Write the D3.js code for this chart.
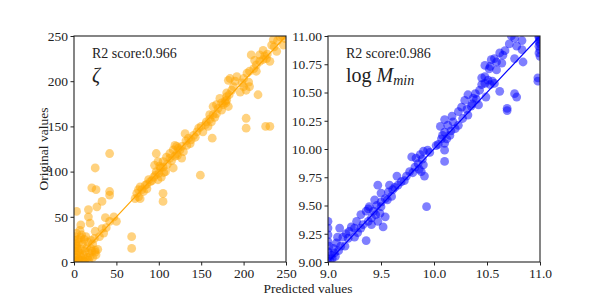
<!DOCTYPE html>
<html><head><meta charset="utf-8">
<script src="https://cdn.jsdelivr.net/npm/d3@7"></script>
<style>body{margin:0;background:#fff}svg{display:block}text{font-family:"Liberation Serif","DejaVu Serif",serif;fill:#222}</style>
</head><body><svg id="c" width="600" height="300"></svg>
<script>
// ---- data ----
const zetaTicks = [0, 50, 100, 150, 200, 250];
const mminXTicks = [9.0, 9.5, 10.0, 10.5, 11.0];
const mminYTicks = [9.0, 9.25, 9.5, 9.75, 10.0, 10.25, 10.5, 10.75, 11.0];
const zetaScore = "R2 score:0.966";
const mminScore = "R2 score:0.986";
// [predicted, original]
const zetaPoints = [
[243,249],[249,247],[247,240],[233,240],[239,233],[223,234],[219,229],[227,225],[223,224],[219,222],[231,222],[209,229],[215,218],[215,211],[207,211],[204,209],[200,203],[192,205],[184,203],[188,194],[182,201],[200,194],[203,190],[207,194],[206,199],[196,188],[217,185],[180,187],[180,183],[172,181],[180,179],[176,174],[168,174],[164,172],[174,168],[182,172],[168,164],[164,163],[160,163],[162,155],[156,155],[158,150],[152,144],[147,148],[141,140],[135,137],[131,142],[137,131],[133,129],[127,128],[121,128],[119,129],[117,124],[121,120],[113,120],[113,115],[109,116],[105,111],[105,105],[99,111],[97,120],[95,107],[97,100],[103,94],[99,91],[94,94],[88,91],[84,85],[78,83],[76,80],[74,76],[72,70],[78,70],[82,78],[86,81],[90,89],[129,122],[127,115],[117,104],
[240,245],[236,238],[228,230],[212,214],[198,198],[186,190],[178,178],[170,170],[166,160],[150,150],[145,144],[138,135],[125,124],[122,118],[115,112],[110,108],[108,100],[102,104],[100,98],[96,96],[92,90],[86,86],[80,80],[76,72],[123,126],[119,117],[106,99],[101,106],[183,185],[179,176],[174,176],[190,200],[213,223],[225,228],[235,246],[246,250],[160,158],[155,152],[143,138],[132,134],
[231,150],[226,150],[203,159],[203,148],[163,137],[149,96],[105,76],[105,67],[68,28],[68,15],[42,120],[42,78],[42,74],[25,104],[21,82],[26,80],[33,67],[27,61],[17,58],[17,50],[3,56],[8,41],[19,43],[47,50],[37,49],[42,45],[50,45],[33,37],[25,34],[35,32],[25,13],[25,11],[30,28],[38,38],
[1,2],[2,5],[3,8],[1,12],[4,15],[2,20],[5,25],[1,28],[6,3],[8,6],[7,10],[9,14],[3,18],[10,20],[12,25],[14,28],[6,22],[8,27],[11,8],[13,12],[15,16],[16,5],[18,10],[20,15],[2,1],[4,0.5],[7,1],[10,2],[13,3],[17,2],[19,6],[21,12],[5,12],[0.5,6],[0.5,16],[0.5,24],[9,30],[16,22],[20,24],[22,20],[24,26],[3,32],[7,35],[12,0.5],[22,5],[26,8],[28,14]
];
const mminPoints = [
[10.73,11.0],[10.76,10.98],[10.83,10.96],[10.78,10.91],[10.83,10.88],[10.99,11.0],[10.99,10.95],[10.99,10.91],[11.0,10.82],[10.76,10.80],[10.62,10.85],[10.65,10.83],[10.57,10.80],[10.54,10.79],[10.59,10.77],[10.48,10.74],[10.53,10.73],[10.64,10.76],[10.59,10.70],[10.52,10.71],[10.48,10.64],[10.51,10.61],[10.48,10.58],[10.53,10.57],[10.57,10.58],[10.45,10.57],[10.43,10.52],[10.62,10.51],[10.49,10.46],[10.39,10.49],[10.32,10.48],[10.37,10.45],[10.29,10.43],[10.36,10.40],[10.42,10.39],[10.26,10.37],[10.31,10.35],[10.23,10.33],[10.32,10.30],[10.17,10.29],[10.18,10.24],[10.13,10.21],[10.10,10.26],[10.23,10.21],[10.20,10.18],[10.06,10.20],[10.10,10.15],[10.15,10.12],[10.12,10.09],[10.07,10.09],[10.04,10.04],[10.10,10.05],[10.10,9.99],[10.10,9.89],[9.94,9.99],[9.90,9.98],[9.87,9.95],[9.83,9.92],[9.79,9.93],[9.85,9.87],[9.90,9.86],[9.88,9.80],[9.91,9.76],[9.82,9.84],[9.77,9.80],[9.74,9.76],[9.69,9.71],[9.65,9.76],[9.66,9.68],[9.58,9.68],[9.61,9.64],[9.57,9.62],[9.50,9.61],[9.47,9.68],[9.54,9.56],[9.50,9.53],[9.44,9.55],[9.50,9.49],[9.46,9.50],[9.39,9.49],[9.43,9.45],[9.49,9.43],[9.54,9.40],[9.52,9.31],[9.47,9.36],[9.41,9.39],[9.38,9.36],[9.41,9.33],[9.38,9.47],[9.36,9.45],[9.31,9.42],[9.27,9.36],[9.25,9.30],[9.22,9.31],[9.20,9.27],[9.17,9.25],[9.14,9.22],[9.11,9.30],[9.09,9.22],[9.08,9.17],[9.05,9.12],[9.06,9.08],[9.03,9.06],[9.16,9.14],[9.25,9.22],[9.36,9.19],[9.31,9.30],
[9.93,9.49],[10.84,10.77],[10.76,10.49],[10.78,10.46],[10.69,10.36],[10.69,10.34],[10.98,10.63],[10.98,10.60],[10.99,10.85],
[9.0,9.36],[9.0,9.30],[9.0,9.24],[9.0,9.18],[9.0,9.09],[9.0,9.03],[9.02,9.01],[9.04,9.03],[9.07,9.05],[9.1,9.1],[9.01,9.14],
[10.71,10.93],[10.67,10.87],[10.45,10.63],[10.40,10.44],[10.27,10.27],[10.16,10.16],[10.02,10.03],[9.96,9.97],[9.89,9.91],[9.80,9.79],[9.72,9.72],[9.63,9.66],[9.56,9.55],[9.45,9.42],[9.33,9.33],[9.28,9.26],[9.19,9.21],[9.12,9.14],[10.55,10.60],[10.35,10.38],[10.08,10.12],[9.86,9.82],[9.60,9.58],
[11.0,10.97],[11.0,10.93],[11.0,10.88],[10.99,10.99]
];

// ---- drawing ----
const svg = d3.select("#c");
const panels = [
  {pts: zetaPoints, dom: [0,250], xt: zetaTicks, yt: zetaTicks, xf: d3.format("d"), yf: d3.format("d"),
   x0: 74, x1: 286, y0: 36, y1: 262, color: "#ffa500", line: [14,250], score: zetaScore, id: "a"},
  {pts: mminPoints, dom: [9,11], xt: mminXTicks, yt: mminYTicks, xf: d3.format(".1f"), yf: d3.format(".2f"),
   x0: 328, x1: 540, y0: 36, y1: 262, color: "#0000ff", line: [9.02,11], score: mminScore, id: "b"}
];
panels.forEach(p => {
  const x = d3.scaleLinear().domain(p.dom).range([p.x0, p.x1]);
  const y = d3.scaleLinear().domain(p.dom).range([p.y1, p.y0]);
  svg.append("clipPath").attr("id", "clip" + p.id).append("rect")
    .attr("x", p.x0).attr("y", p.y0).attr("width", p.x1 - p.x0).attr("height", p.y1 - p.y0);
  const g = svg.append("g").attr("clip-path", `url(#clip${p.id})`);
  g.selectAll("circle").data(p.pts).join("circle")
    .attr("cx", d => x(d[0])).attr("cy", d => y(d[1])).attr("r", 4.4)
    .attr("fill", p.color).attr("fill-opacity", 0.5);
  g.append("line").attr("x1", x(p.line[0])).attr("y1", y(p.line[0]))
    .attr("x2", x(p.line[1])).attr("y2", y(p.line[1]))
    .attr("stroke", p.color).attr("stroke-width", 1.2);
  const ax = svg.append("g").attr("transform", `translate(0,${p.y1})`)
    .call(d3.axisBottom(x).tickValues(p.xt).tickFormat(p.xf).tickSize(3.5).tickPadding(2.5).tickSizeOuter(0));
  const ay = svg.append("g").attr("transform", `translate(${p.x0},0)`)
    .call(d3.axisLeft(y).tickValues(p.yt).tickFormat(p.yf).tickSize(3.5).tickPadding(2.5).tickSizeOuter(0));
  [ax, ay].forEach(a => {
    a.select(".domain").remove();
    a.attr("font-family", null).attr("font-size", null);
    a.selectAll("text").attr("font-size", 13.5).attr("fill", "#222");
    a.selectAll("line").attr("stroke", "#222");
  });
  svg.append("rect").attr("x", p.x0).attr("y", p.y0).attr("width", p.x1 - p.x0).attr("height", p.y1 - p.y0)
    .attr("fill", "none").attr("stroke", "#222").attr("stroke-width", 1.1);
  svg.append("text").attr("x", p.x0 + 18).attr("y", 58).attr("font-size", 14).text(p.score);
});
// labels inside panels
svg.append("text").attr("x", 92).attr("y", 82).attr("font-size", 20).attr("font-style", "italic").text("ζ");
const lm = svg.append("text").attr("x", 346).attr("y", 82).attr("font-size", 20);
lm.append("tspan").text("log ");
lm.append("tspan").attr("font-style", "italic").text("M");
lm.append("tspan").attr("font-style", "italic").attr("font-size", 14).attr("dy", 3).text("min");
// axis titles
svg.append("text").attr("x", 308).attr("y", 293).attr("text-anchor", "middle").attr("font-size", 13.5).text("Predicted values");
svg.append("text").attr("transform", "translate(48,149) rotate(-90)").attr("text-anchor", "middle").attr("font-size", 13.5).text("Original values");
</script></body></html>
